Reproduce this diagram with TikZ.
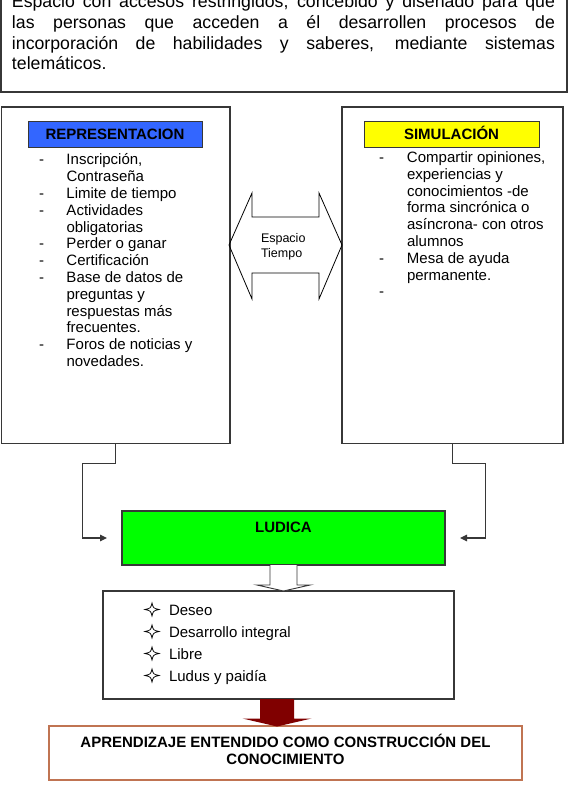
\documentclass[tikz,border=0pt]{standalone}
\usepackage{fontspec}
\setmainfont{Liberation Sans}
\usetikzlibrary{arrows.meta,calc}

\definecolor{hdrblue}{RGB}{51,102,255}
\definecolor{hdryellow}{RGB}{255,255,0}
\definecolor{ludgreen}{RGB}{0,255,0}
\definecolor{darkmaroon}{RGB}{128,0,0}
\definecolor{rustline}{RGB}{192,116,82}
\definecolor{edge}{RGB}{55,55,55}

\begin{document}
\begin{tikzpicture}[x=1pt,y=-1pt,
  frame/.style={draw=edge,line width=1.3pt,inner sep=0pt,outer sep=0pt,anchor=north west},
  header/.style={draw=edge,line width=1pt,inner sep=0pt,outer sep=0pt,anchor=north west,
    text height=10.7pt,text depth=0pt,font=\fontsize{15}{17}\selectfont\bfseries},
  bodytext/.style={inner sep=0pt,outer sep=0pt,anchor=north west,align=left,
    font=\fontsize{15}{16.8}\selectfont},
  itemtext/.style={inner sep=0pt,outer sep=0pt,anchor=base west,font=\fontsize{15}{17}\selectfont},
  boldline/.style={inner sep=0pt,outer sep=0pt,anchor=base,font=\fontsize{15}{17}\selectfont\bfseries},
  conn/.style={draw=edge,line width=1.2pt,-{Triangle[length=7pt,width=6.5pt]}},
  hollowarrow/.style={draw=edge,line width=0.9pt,fill=white,line join=miter},
  fourstar/.pic={\draw[line width=0.75pt,line join=miter]
    (0,-6.5) .. controls (1.3,-1.3) .. (7,0) .. controls (1.3,1.3) .. (0,6.5)
    .. controls (-1.3,1.3) .. (-7,0) .. controls (-1.3,-1.3) .. cycle;}
]
\path[use as bounding box,clip] (0,0) rectangle (568,792);
\fill[white] (0,0) rectangle (568,792);

% ---- definition box at the top
\node[frame,anchor=south west,minimum width=566pt,minimum height=112pt] (intro) at (1,92) {};
\node[inner sep=0pt,outer sep=0pt,anchor=north west,align=left,
      font=\fontsize{17.7}{20.5}\selectfont] (introtext) at (12,-6.35)
  {\makebox[543pt][s]{\strut Espacio con accesos restringidos, concebido y diseñado para que}\\
   \makebox[543pt][s]{las personas que acceden a él desarrollen procesos de}\\
   \makebox[543pt][s]{incorporación de habilidades y saberes, mediante sistemas}\\
   telemáticos.};

% ---- two side columns
\node[frame,minimum width=228.5pt,minimum height=336.5pt] (rep) at (1.5,107) {};
\node[frame,minimum width=221pt,minimum height=336.5pt] (sim) at (342,107) {};

\node[header,fill=hdrblue,minimum width=174pt,minimum height=26pt] (rephdr) at (28,121) {REPRESENTACION};
\node[header,fill=hdryellow,minimum width=175pt,minimum height=26pt] (simhdr) at (364,121) {SIMULACIÓN};

\node[bodytext] (replist) at (39,153.2)
  {\makebox[27.5pt][l]{\strut -}Inscripción,\\
   \hspace*{27.5pt}Contraseña\\
   \makebox[27.5pt][l]{-}Limite de tiempo\\
   \makebox[27.5pt][l]{-}Actividades\\
   \hspace*{27.5pt}obligatorias\\
   \makebox[27.5pt][l]{-}Perder o ganar\\
   \makebox[27.5pt][l]{-}Certificación\\
   \makebox[27.5pt][l]{-}Base de datos de\\
   \hspace*{27.5pt}preguntas y\\
   \hspace*{27.5pt}respuestas más\\
   \hspace*{27.5pt}frecuentes.\\
   \makebox[27.5pt][l]{-}Foros de noticias y\\
   \hspace*{27.5pt}novedades.};

\node[bodytext] (simlist) at (379,150.7)
  {\makebox[28pt][l]{\strut -}Compartir opiniones,\\
   \hspace*{28pt}experiencias y\\
   \hspace*{28pt}conocimientos -de\\
   \hspace*{28pt}forma sincrónica o\\
   \hspace*{28pt}asíncrona- con otros\\
   \hspace*{28pt}alumnos\\
   \makebox[28pt][l]{-}Mesa de ayuda\\
   \hspace*{28pt}permanente.\\
   \makebox[28pt][l]{-}};

% ---- double arrow between the columns
\draw[draw=black,line width=0.8pt,line join=miter]
  (229,245) -- (252,193) -- (252,217) -- (319,217) -- (319,193) -- (342,245)
  -- (319,299) -- (319,273) -- (252,273) -- (252,299) -- cycle;
\node[inner sep=0pt,outer sep=0pt,anchor=north west,align=left,
      font=\fontsize{12.5}{15}\selectfont] (espacio) at (261,232)
  {\strut Espacio\\Tiempo};

% ---- LUDICA
\node[frame,fill=ludgreen,minimum width=323pt,minimum height=54pt] (lud) at (122,511) {};
\node[boldline] (ludlabel) at ([yshift=-21.4pt]lud.north) {LUDICA};

\coordinate (lin) at ([xshift=-15pt]lud.west);
\coordinate (rin) at ([xshift=15pt]lud.east);
\draw[conn] (rep.south) -- ++(0,20) -- ++(-33,0) |- (lin);
\draw[conn] (sim.south) -- ++(0,20) -- ++(33,0) |- (rin);

% ---- features box
\node[frame,minimum width=351pt,minimum height=108pt] (ful) at (103,591) {};
\draw[hollowarrow] (lud.south) ++(-13.5,0) -- ++(0,20) -- ++(-13,0) -- ++(26.5,6)
  -- ++(26.5,-6) -- ++(-13,0) -- ++(0,-20);

\node[itemtext] (d1) at (169,615.5) {Deseo};
\node[itemtext] (d2) at (169,637.5) {Desarrollo integral};
\node[itemtext] (d3) at (169,659.5) {Libre};
\node[itemtext] (d4) at (169,681.5) {Ludus y paidía};
\foreach \n in {d1,d2,d3,d4}
  \pic at ([xshift=-17pt,yshift=6pt]\n.base west) {fourstar};

% ---- conclusion
\node[frame,draw=rustline,line width=1.5pt,minimum width=473pt,minimum height=54pt] (apr) at (49,726) {};
\fill[darkmaroon] ([xshift=-1.5pt]ful.south) ++(-17,0) -- ++(0,19.5) -- ++(-17.5,0)
  -- ++(34.5,8) -- ++(34.5,-8) -- ++(-17.5,0) -- ++(0,-19.5) -- cycle;
\node[boldline] (aprl1) at ([yshift=-21pt]apr.north) {APRENDIZAJE ENTENDIDO COMO CONSTRUCCIÓN DEL};
\node[boldline] (aprl2) at ([yshift=-38pt]apr.north) {CONOCIMIENTO};
\end{tikzpicture}
\end{document}
